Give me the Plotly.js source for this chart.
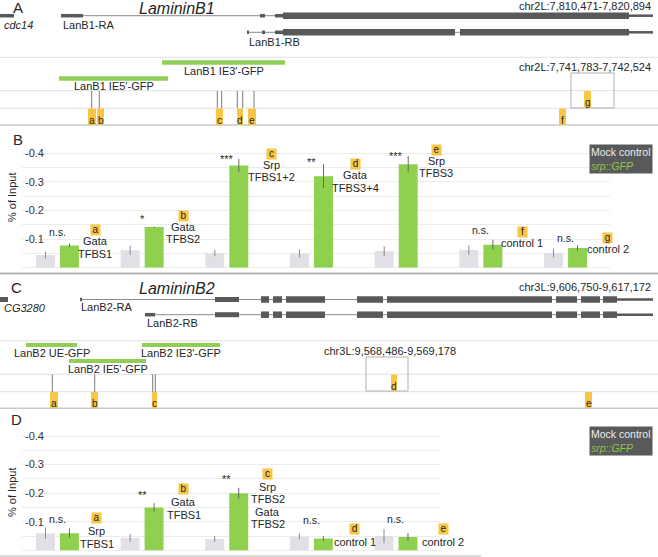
<!DOCTYPE html>
<html><head><meta charset="utf-8">
<script src="https://cdn.plot.ly/plotly-3.0.1.min.js"></script>
<style>html,body{margin:0;padding:0;background:#fff}</style>
</head><body><div id="chart" style="width:658px;height:557px"></div>
<script>
// ---------------- DATA ----------------
// Panel B (LamininB1 ChIP-qPCR)
const sitesB   = ['a','b','c','d','e','f','g'];
const labelsB  = ['Gata<br>TFBS1','Gata<br>TFBS2','Srp<br>TFBS1+2','Gata<br>TFBS3+4','Srp<br>TFBS3','control 1','control 2'];
const mockB    = [-0.044,-0.061,-0.051,-0.050,-0.058,-0.062,-0.051];
const mockErrB = [0.012,0.016,0.011,0.014,0.017,0.017,0.015];
const srpB     = [-0.078,-0.142,-0.357,-0.320,-0.362,-0.080,-0.069];
const srpErrB  = [0.006,0.002,0.023,0.042,0.029,0.017,0.010];
const sigB     = ['n.s.','*','***','**','***','n.s.','n.s.'];
// Panel D (LamininB2 ChIP-qPCR)
const sitesD   = ['a','b','c','d','e'];
const labelsD  = ['Srp<br>TFBS1','Gata<br>TFBS1','Srp<br>TFBS2<br>Gata<br>TFBS2','control 1','control 2'];
const mockD    = [-0.060,-0.044,-0.040,-0.049,-0.050];
const mockErrD = [0.020,0.014,0.010,0.010,0.024];
const srpD     = [-0.060,-0.150,-0.200,-0.042,-0.047];
const srpErrD  = [0.017,0.015,0.019,0.009,0.014];
const sigD     = ['n.s.','**','**','n.s.','n.s.'];
const yTicks   = [-0.1,-0.2,-0.3,-0.4];
const yTickText= ['-0.1','-0.2','-0.3','-0.4'];
const seriesNames = ['Mock control','srp::GFP'];

// Gene tracks (track units along the page)
const transcriptsA = [
  {name:'cdc14', italic:true, y:15.7, intron:null, exons:[[0,14,'u']], label:[2,24.5]},
  {name:'LanB1-RA', y:15.7, intron:[83,629], exons:[[61,83,'u'],[260,265,'u'],[275,283,'u'],[283,629,'c'],[629,653,'t']], label:[61,24.5]},
  {name:'LanB1-RB', y:32.3, intron:[247,629], exons:[[247,249,'u'],[262,265,'u'],[275,283,'u'],[283,455,'c'],[460,629,'c'],[629,653,'t']], label:[247,41.5]}
];
const transcriptsC = [
  {name:'CG3280', italic:true, y:299.5, intron:null, exons:[[0,8,'m']], label:[2,308]},
  {name:'LanB2-RA', y:299.5, intron:[80,617], exons:[[80,82,'u'],[215,239,'m'],[261,269,'c'],[273,282,'c'],[286,325,'c'],[357,383,'c'],[387,552,'c'],[556,577,'c'],[581,600,'c'],[603,617,'c'],[617,653,'t']], label:[79,307]},
  {name:'LanB2-RB', y:314.7, intron:[155,617], exons:[[145,155,'u'],[215,239,'m'],[261,269,'c'],[273,282,'c'],[286,325,'c'],[357,383,'c'],[387,552,'c'],[556,577,'c'],[581,600,'c'],[603,617,'c'],[617,653,'t']], label:[145,322.5]}
];
const constructsA = [
  {name:"LanB1 IE3'-GFP", span:[162,285], y:62.5, labelY:71},
  {name:"LanB1 IE5'-GFP", span:[59,168], y:78.5, labelY:86}
];
const constructsC = [
  {name:"LanB2 UE-GFP",   span:[26,77],   y:345, labelY:353},
  {name:"LanB2 IE3'-GFP", span:[142,220], y:345, labelY:353},
  {name:"LanB2 IE5'-GFP", span:[69,146],  y:361, labelY:369}
];
const tfbsLinesA = [91.7,99.3,217.3,221.7,237.3,242.7,254];
const tfbsLinesC = [52.3,94.7,152.7,155.3];
// site boxes: [letter, x0, x1, row]  row 0 = upper, 1 = lower
const siteBoxesA = [['a',88,96,1],['b',97,104,1],['c',216,223,1],['d',237,243,1],['e',248,256,1],['f',559,566,1],['g',584,591,0]];
const siteBoxesC = [['a',50,58,1],['b',91,98,1],['c',152,157,1],['d',391,397,0],['e',585,592,1]];

// ---------------- STYLE ----------------
const FONT = 'Liberation Sans, Arial, Helvetica, sans-serif';
const GREY_BAR = '#e1e0e6', GREEN_BAR = '#8fd14f', YEL = '#f8c544', EXON = '#58595b';
const TXT = '#262626';

const shapes = [];
const ann = [];
function rect(x0,x1,y0,y1,fill,lineColor,lw){
  shapes.push({type:'rect',xref:'x3',yref:'y3',x0:x0,x1:x1,y0:y0,y1:y1,
    fillcolor:fill||'rgba(0,0,0,0)',line:{width:lineColor?(lw||1):0,color:lineColor||'rgba(0,0,0,0)'},layer:'above'});
}
function hline(x0,x1,y,color,w){
  shapes.push({type:'line',xref:'x3',yref:'y3',x0:x0,x1:x1,y0:y,y1:y,line:{color:color,width:w||1},layer:'above'});
}
function vline(x,y0,y1,color,w){
  shapes.push({type:'line',xref:'x3',yref:'y3',x0:x,x1:x,y0:y0,y1:y1,line:{color:color,width:w||1},layer:'above'});
}
function txt(t,x,y,opt){
  opt=opt||{};
  ann.push(Object.assign({xref:'x3',yref:'y3',x:x,y:y,text:t,showarrow:false,
    xanchor:opt.xa||'left',yanchor:'middle',
    font:{family:FONT,size:opt.size||11,color:opt.color||TXT}},opt.extra||{}));
}
const H = {u:3.5, m:5, c:6.5, t:2.5};
function drawTranscripts(list){
  list.forEach(t=>{
    if(t.intron) hline(t.intron[0],t.intron[1],t.y,'#8a8a8a',1);
    t.exons.forEach(e=>rect(e[0],e[1],t.y-H[e[2]]/2,t.y+H[e[2]]/2,EXON));
    txt(t.italic?'<i>'+t.name+'</i>':t.name,t.label[0],t.label[1]);
  });
}
function drawConstructs(list,h){
  list.forEach(c=>{
    rect(c.span[0],c.span[1],c.y-h/2,c.y+h/2,'#8fcf55');
    txt(c.name,(c.span[0]+c.span[1])/2,c.labelY,{xa:'center'});
  });
}
function drawSites(lines,boxes,rows,lineTop,lineBot){
  lines.forEach(x=>vline(x,lineTop,lineBot,'#7a7a7a',1));
  boxes.forEach(b=>{
    const r=rows[b[3]];
    rect(b[1],b[2],r[0],r[1],YEL);
    txt(b[0],(b[1]+b[2])/2,r[1]-5,{xa:'center',size:10});
  });
}

// ---- Panel A ----
txt('A',17.5,7.5,{xa:'center',size:15});
txt('<i>LamininB1</i>',176.5,8,{xa:'center',size:16});
txt('chr2L:7,810,471-7,820,894',653,6,{xa:'right'});
drawTranscripts(transcriptsA);
[57.3,90.7,108.3].forEach(y=>hline(0,658,y,'#e0e0e0',1));
hline(0,658,125,'#c8c8c8',1.5);
drawConstructs(constructsA,4.5);
txt('chr2L:7,741,783-7,742,524',653,66.5,{xa:'right'});
rect(571,614,73,108,null,'#b0b0b0',1);
drawSites(tfbsLinesA,siteBoxesA,[[91,107.5],[108.5,125]],91,108);

// ---- Panel C ----
txt('C',16.5,287,{xa:'center',size:15});
txt('<i>LamininB2</i>',176.5,288.5,{xa:'center',size:16});
txt('chr3L:9,606,750-9,617,172',653,286.5,{xa:'right'});
drawTranscripts(transcriptsC);
[340.7,374.3,391.7].forEach(y=>hline(0,658,y,'#e0e0e0',1));
hline(0,658,408.3,'#c8c8c8',1.5);
drawConstructs(constructsC,4);
txt('chr3L:9,568,486-9,569,178',322,351,{xa:'left'});
rect(366,408,357,391,null,'#b0b0b0',1);
drawSites(tfbsLinesC,siteBoxesC,[[374.5,391],[392,408]],374.3,392);

// separators under bar panels
hline(0,658,273.5,'#b4b4b4',2);
hline(0,481,556,'#d0d0d0',1.5);

// panel letters B, D and y titles
txt('B',17.5,139,{xa:'center',size:15});
txt('D',16.5,419,{xa:'center',size:15});
txt('% of Input',12,197,{xa:'center',extra:{textangle:-90}});
txt('% of Input',12,492,{xa:'center',extra:{textangle:-90}});

// legends
function legend(y){
  ann.push({xref:'x3',yref:'y3',x:653,y:y,xanchor:'right',yanchor:'top',showarrow:false,align:'left',
    text:seriesNames[0]+'<br><i><span style="color:#8dc63f">'+seriesNames[1]+'</span></i>',
    bgcolor:EXON,borderpad:1,font:{family:FONT,size:10.5,color:'#ececec'}});
}
legend(144); legend(426);

// ---- bar panels ----
const OFF = 0.1417, BW = 0.224;
function barTraces(mock,mErr,srp,sErr,xa,ya){
  const idx = mock.map((_,i)=>i);
  return [
    {type:'bar',x:idx,y:mock,offset:-OFF-BW/2,width:BW,marker:{color:GREY_BAR},xaxis:xa,yaxis:ya,name:seriesNames[0],
     error_y:{type:'data',array:mErr,visible:true,color:'#8a8a8a',thickness:1,width:0},showlegend:false,hoverinfo:'skip'},
    {type:'bar',x:idx,y:srp,offset:OFF-BW/2,width:BW,marker:{color:GREEN_BAR},xaxis:xa,yaxis:ya,name:seriesNames[1],
     error_y:{type:'data',array:sErr,visible:true,color:'#6a6a6a',thickness:1,width:0},showlegend:false,hoverinfo:'skip'}
  ];
}
// label placement (pixels): first text line lift above green bar top, x shift
const liftB = [4,0,0.5,0.7,3,2,-1], dxB = [38,41,45,44,40,41.5,42];
const liftD = [2,5,6,-3.4,-5],      dxD = [39.5,41.5,41,43.5,47.5];
const sigLiftB = [11.7,11.5,4,6,4,10,7], sigLiftD = [8.4,12,13,13.5,10];
function barAnnotations(sites,labels,mock,mErr,srp,sErr,sig,lift,dx,sigLift,letterGap,xa,ya){
  sites.forEach((s,i)=>{
    const lines = labels[i].split('<br>');
    lines.forEach((ln,k)=>{
      ann.push({xref:xa,yref:ya,x:i,y:srp[i],xshift:dx[i],yshift:lift[i]-k*12.3,text:ln,showarrow:false,
        xanchor:'center',yanchor:'middle',font:{family:FONT,size:11,color:TXT}});
    });
    ann.push({xref:xa,yref:ya,x:i,y:srp[i],xshift:dx[i],yshift:lift[i]+letterGap,text:s,showarrow:false,
      xanchor:'center',yanchor:'middle',width:9,height:10,bgcolor:YEL,borderpad:0,valign:'bottom',
      font:{family:FONT,size:10,color:TXT}});
    const top = Math.max(Math.abs(mock[i])+mErr[i],Math.abs(srp[i])+sErr[i]);
    const star = sig[i].charAt(0)==='*';
    ann.push({xref:xa,yref:ya,x:i,y:-top,yshift:sigLift[i]-(star?4:0),text:sig[i],showarrow:false,
      xanchor:'center',yanchor:'middle',font:{family:FONT,size:star?11:10.5,color:TXT}});
  });
}
barAnnotations(sitesB,labelsB,mockB,mockErrB,srpB,srpErrB,sigB,liftB,dxB,sigLiftB,11,'x','y');
barAnnotations(sitesD,labelsD,mockD,mockErrD,srpD,srpErrD,sigD,liftD,dxD,sigLiftD,13,'x2','y2');

const YTOP = -0.45;
function yAxis(domain,anchor){
  return {domain:domain,range:[0,YTOP],anchor:anchor,tickvals:yTicks,ticktext:yTickText,
    ticklabelposition:'inside',ticks:'',showline:false,showgrid:true,gridcolor:'#ececec',gridwidth:1,
    minor:{tickvals:[-0.05,-0.15,-0.25,-0.35],showgrid:true,gridcolor:'#ececec',ticks:''},
    zeroline:true,zerolinecolor:'#ececec',zerolinewidth:1,fixedrange:true,
    tickfont:{family:FONT,size:11,color:'#333'}};
}
const PX01 = 286; // pixels per 1.0 on the value axis
const data = [
  ...barTraces(mockB,mockErrB,srpB,srpErrB,'x','y'),
  ...barTraces(mockD,mockErrD,srpD,srpErrD,'x2','y2'),
  {type:'scatter',x:[],y:[],xaxis:'x3',yaxis:'y3',showlegend:false,hoverinfo:'skip'}
];
const zeroB = 267.7, zeroD = 550.4;
const layout = {
  width:658,height:557,margin:{l:0,r:0,t:0,b:0,pad:0},
  paper_bgcolor:'#ffffff',plot_bgcolor:'rgba(0,0,0,0)',barmode:'overlay',showlegend:false,
  font:{family:FONT,color:TXT},
  xaxis:{domain:[22/658,610/658],range:[-0.419,6.525],visible:false,anchor:'y',fixedrange:true},
  yaxis:yAxis([1-zeroB/557,1-(zeroB+YTOP*PX01)/557],'x'),
  xaxis2:{domain:[22/658,440/658],range:[-0.419,4.52],visible:false,anchor:'y2',fixedrange:true},
  yaxis2:yAxis([1-zeroD/557,1-(zeroD+YTOP*PX01)/557],'x2'),
  xaxis3:{domain:[0,1],range:[0,658],visible:false,anchor:'y3',fixedrange:true},
  yaxis3:{domain:[0,1],range:[557,0],visible:false,anchor:'x3',fixedrange:true},
  shapes:shapes,annotations:ann
};
Plotly.newPlot('chart',data,layout,{staticPlot:true,displayModeBar:false});
</script></body></html>
